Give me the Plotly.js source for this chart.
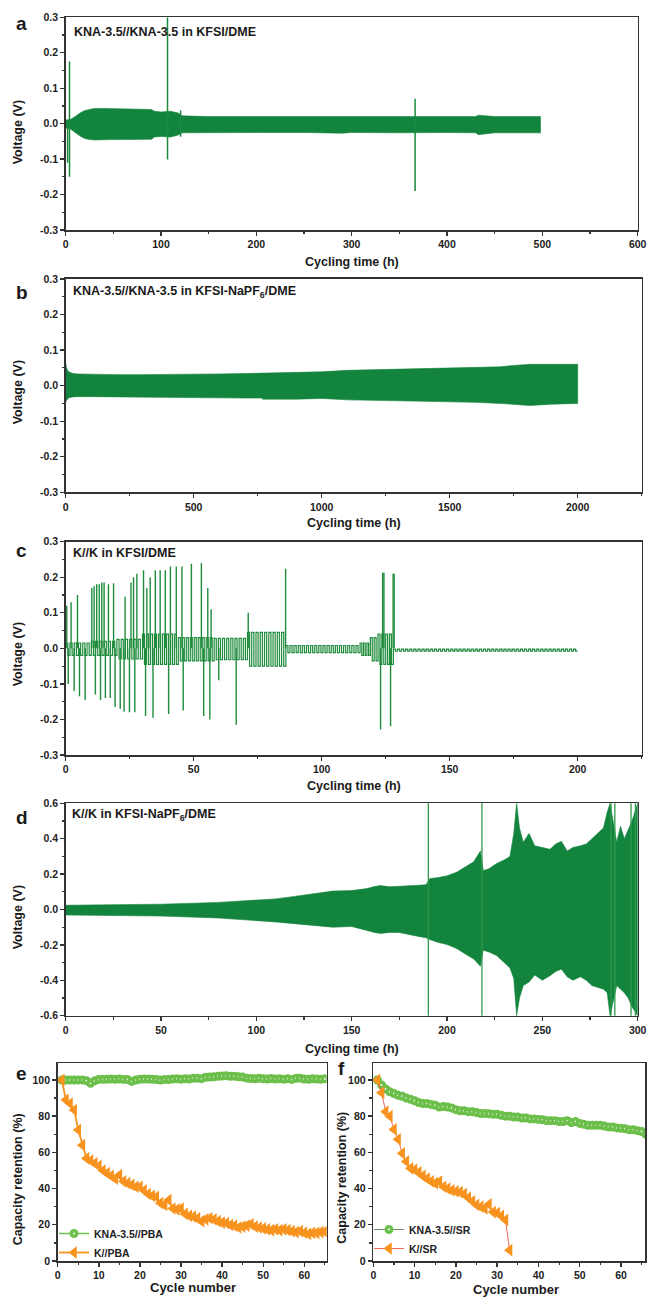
<!DOCTYPE html>
<html><head><meta charset="utf-8">
<script src="https://cdn.plot.ly/plotly-3.0.1.min.js"></script>
<style>html,body{margin:0;padding:0;background:#fff}#chart{width:647px;height:1297px}</style>
</head><body><div id="chart"></div>
<script>
// ---------- Panel a: KNA-3.5//KNA-3.5 in KFSI/DME (envelope of dense cycling) ----------
const aTime  = [0, 5, 10, 15, 20, 25, 30, 40, 50, 60, 70, 80, 90, 93, 100, 110, 118, 122, 130, 150, 200, 250, 290, 300, 350, 400, 430, 433, 450, 498];
const aUpper = [0.01, 0.012, 0.02, 0.03, 0.037, 0.04, 0.043, 0.043, 0.042, 0.041, 0.041, 0.04, 0.04, 0.035, 0.033, 0.035, 0.03, 0.022, 0.021, 0.02, 0.02, 0.02, 0.022, 0.021, 0.02, 0.02, 0.02, 0.024, 0.02, 0.02];
const aLower = [-0.012, -0.015, -0.025, -0.035, -0.042, -0.045, -0.046, -0.046, -0.045, -0.045, -0.045, -0.045, -0.044, -0.038, -0.036, -0.038, -0.032, -0.026, -0.025, -0.025, -0.025, -0.025, -0.027, -0.025, -0.026, -0.025, -0.026, -0.031, -0.026, -0.026];
const aSpikeTime = [2, 4, 106.8, 120.5, 366.5];
const aSpikeHigh = [0.01, 0.175, 0.3, 0.038, 0.07];
const aSpikeLow  = [-0.11, -0.15, -0.101, -0.037, -0.19];

// ---------- Panel b: KNA-3.5//KNA-3.5 in KFSI-NaPF6/DME ----------
const bTime  = [0, 3, 10, 25, 45, 100, 200, 300, 400, 500, 600, 700, 765, 770, 900, 1000, 1100, 1250, 1400, 1515, 1600, 1700, 1750, 1815, 1900, 2000];
const bUpper = [0.065, 0.05, 0.04, 0.035, 0.033, 0.032, 0.031, 0.031, 0.031, 0.032, 0.033, 0.034, 0.035, 0.037, 0.038, 0.039, 0.043, 0.046, 0.048, 0.05, 0.051, 0.053, 0.057, 0.06, 0.06, 0.06];
const bLower = [-0.045, -0.04, -0.035, -0.032, -0.031, -0.031, -0.031, -0.032, -0.033, -0.034, -0.034, -0.035, -0.035, -0.038, -0.038, -0.036, -0.04, -0.042, -0.044, -0.045, -0.047, -0.05, -0.052, -0.056, -0.052, -0.05];

// ---------- Panel c: K//K in KFSI/DME (plateau segments + spikes) ----------
const cSegStart  = [0, 10, 20, 30, 44, 58, 71, 86, 115, 119, 122, 128];
const cSegEnd    = [10, 20, 30, 44, 58, 71, 86, 115, 119, 122, 128, 200];
const cSegCycles = [6, 6, 6, 9, 9, 8, 9, 18, 3, 2, 4, 45];
const cSegHigh   = [0.015, 0.02, 0.025, 0.04, 0.03, 0.028, 0.045, 0.008, 0.015, 0.03, 0.04, -0.002];
const cSegLow    = [-0.02, -0.02, -0.03, -0.045, -0.035, -0.032, -0.05, -0.012, -0.02, -0.035, -0.045, -0.008];
const cSpikeTime = [0.4, 2.1, 4.6, 10.2, 11.1, 12.1, 13.1, 14.1, 15.0, 16.7, 18.7, 23.2, 25.5, 26.5, 27.8, 30.4, 31.7, 33, 35, 36.9, 38.9, 40.9, 43.2, 45.4, 49.1, 53, 55.5, 56.8, 71.3, 85.9, 123.8, 124.3, 127.9, 128.3,
                    1, 3.3, 5.4, 7.6, 11.6, 13.6, 15.5, 17.4, 19.3, 21.3, 22.8, 24.9, 27, 31.2, 34.1, 40.2, 45.9, 53.9, 56.3, 59.8, 66.6, 123.0, 126.9];
const cSpikePeak = [0.12, 0.13, 0.15, 0.17, 0.175, 0.18, 0.18, 0.185, 0.185, 0.18, 0.183, 0.145, 0.185, 0.2, 0.21, 0.22, 0.17, 0.2, 0.22, 0.22, 0.22, 0.23, 0.23, 0.23, 0.238, 0.24, 0.17, 0.11, 0.1, 0.224, 0.213, 0.213, 0.21, 0.21,
                    -0.1, -0.12, -0.135, -0.145, -0.13, -0.145, -0.14, -0.14, -0.165, -0.17, -0.178, -0.18, -0.18, -0.19, -0.195, -0.185, -0.175, -0.19, -0.2, -0.09, -0.215, -0.228, -0.219];

// ---------- Panel d: K//K in KFSI-NaPF6/DME ----------
const dTime  = [0, 20, 50, 80, 100, 110, 120, 130, 140, 150, 158, 162, 165, 170, 175, 180, 185, 189, 191, 195, 200, 205, 210, 214, 217.5, 219, 222, 226, 230, 233, 235, 236.5, 238, 240, 243, 246, 250, 254, 257, 260, 263, 266, 270, 273, 276, 279, 282, 284, 285.5, 289, 291, 293, 295, 297, 300];
const dUpper = [0.024, 0.026, 0.03, 0.04, 0.052, 0.06, 0.074, 0.09, 0.104, 0.107, 0.118, 0.13, 0.135, 0.128, 0.13, 0.133, 0.137, 0.14, 0.175, 0.18, 0.19, 0.21, 0.245, 0.27, 0.33, 0.22, 0.23, 0.26, 0.28, 0.3, 0.43, 0.6, 0.46, 0.38, 0.43, 0.36, 0.35, 0.34, 0.37, 0.385, 0.33, 0.35, 0.36, 0.37, 0.4, 0.43, 0.46, 0.55, 0.6, 0.38, 0.47, 0.4, 0.45, 0.5, 0.6];
const dLower = [-0.031, -0.033, -0.037, -0.048, -0.063, -0.07, -0.078, -0.09, -0.1, -0.096, -0.12, -0.13, -0.135, -0.13, -0.13, -0.14, -0.152, -0.16, -0.17, -0.185, -0.198, -0.22, -0.254, -0.28, -0.32, -0.23, -0.24, -0.26, -0.3, -0.33, -0.39, -0.6, -0.5, -0.43, -0.41, -0.37, -0.4, -0.374, -0.35, -0.337, -0.38, -0.4, -0.38, -0.4, -0.43, -0.44, -0.45, -0.47, -0.6, -0.43, -0.45, -0.47, -0.5, -0.55, -0.6];
const dSpikeTime = [190.2, 218.3, 286, 288, 296.5, 298.8];

// ---------- Panels e, f: capacity retention ----------
const cycles = [1,2,3,4,5,6,7,8,9,10,11,12,13,14,15,16,17,18,19,20,21,22,23,24,25,26,27,28,29,30,31,32,33,34,35,36,37,38,39,40,41,42,43,44,45,46,47,48,49,50,51,52,53,54,55,56,57,58,59,60,61,62,63,64,65,66];
const eKNA = [100,100,100,100,100,100,99.6,98.2,99.5,100.3,100.4,100.4,100.5,100.4,100.5,100.3,100.2,99.2,100,100.4,100.5,100.5,100.4,100.2,100,100.3,100.2,100.5,100.6,100.4,100.7,100.5,100.9,101,100.7,101.5,101.6,101.8,102,102.2,102.3,102,102.1,101.8,101.6,101,100.8,100.6,100.9,100.7,100.5,100.8,100.5,100.6,100.4,100.6,100.3,100.9,101,100.5,100.4,100.6,100.5,100.4,100.6];
const eK = [100,89,87,83.4,72.4,64,56.7,55.5,54,52.5,50,48.5,47,45.5,47.5,44,43,42,41,41,39,37,36,35.5,32,31,33.7,29,28.5,29,26,25,24.5,23.5,22,23,23.6,23,22,21.2,21,20,19.5,18.5,19,19.5,20.3,19,18.5,18,17.5,17,17.5,17,17.5,17,16.5,16,16.5,15.6,15,15.5,15.5,16,16.2];
const fKNA = [100,97.2,95,93.5,92.5,91.5,91,90,89.3,88.5,87.5,87,87,86.5,86,85,85.3,85,84.5,83.6,83,83,82.5,82.5,82,81.5,81.5,81.3,81,81,80.5,80,80,79.5,79.5,79,79,78.5,78.5,78.2,78,77.5,77.5,77.5,77,77,77.5,76.5,77,76,75.5,75,75,75,75,74.5,74,74,73.5,73.3,73,72.5,72.5,72,71.5,70];
const fK = [100,93,82.5,80,72.7,67.2,59.5,55,51.2,50.5,49,47,45.5,44,43,43.8,41,40,39,38.5,38,37,35,33,31,30,29,31.3,27,26.5,25,22.7,6];

// ---------- tick labels ----------
const vTick3 = [-0.3, -0.2, -0.1, 0, 0.1, 0.2, 0.3];
const vText3 = ['-0.3', '-0.2', '-0.1', '0.0', '0.1', '0.2', '0.3'];
const vTick6 = [-0.6, -0.4, -0.2, 0, 0.2, 0.4, 0.6];
const vText6 = ['-0.6', '-0.4', '-0.2', '0.0', '0.2', '0.4', '0.6'];
const aXTicks = [0, 100, 200, 300, 400, 500, 600];
const bXTicks = [0, 500, 1000, 1500, 2000];
const cXTicks = [0, 50, 100, 150, 200];
const dXTicks = [0, 50, 100, 150, 200, 250, 300];
const capTicks = [0, 20, 40, 60, 80, 100];
const cycTicks = [0, 10, 20, 30, 40, 50, 60];

// ---------- build ----------
const W = 647, H = 1297;
const FONT = 'Liberation Sans, Arial, Helvetica, sans-serif';
const GREEN = '#13843d';
const px = v => v / W, py = v => 1 - v / H;

function band(t, up, lo, xa, ya) {
  return {x: t.concat(t.slice().reverse()), y: up.concat(lo.slice().reverse()),
    xaxis: xa, yaxis: ya, mode: 'lines', fill: 'toself', fillcolor: GREEN,
    line: {color: GREEN, width: 0.6}, showlegend: false, hoverinfo: 'skip'};
}
function spikes(t, hi, lo, xa, ya, color, w) {
  const x = [], y = [];
  t.forEach((v, i) => { x.push(v, v, null); y.push(lo[i], hi[i], null); });
  return {x, y, xaxis: xa, yaxis: ya, mode: 'lines', line: {color, width: w}, showlegend: false, hoverinfo: 'skip'};
}
function squareWave() {
  const x = [], y = [];
  cSegStart.forEach((s, i) => {
    const n = cSegCycles[i], p = (cSegEnd[i] - s) / n;
    for (let k = 0; k < n; k++) {
      const t = s + k * p;
      x.push(t, t + p / 2, t + p / 2, t + p);
      y.push(cSegHigh[i], cSegHigh[i], cSegLow[i], cSegLow[i]);
    }
  });
  return {x, y, xaxis: 'x3', yaxis: 'y3', mode: 'lines', line: {color: '#1f8c3c', width: 1.2}, showlegend: false, hoverinfo: 'skip'};
}

const LG = '#6cbf4a', OR = '#f7931e';
const traces = [
  band(aTime, aUpper, aLower, 'x', 'y'),
  spikes(aSpikeTime, aSpikeHigh, aSpikeLow, 'x', 'y', '#1a8a3e', 1.5),
  band(bTime, bUpper, bLower, 'x2', 'y2'),
  squareWave(),
  spikes(cSpikeTime, cSpikePeak, cSpikeTime.map(() => 0), 'x3', 'y3', '#1f8c3c', 1.4),
  band(dTime, dUpper, dLower, 'x4', 'y4'),
  spikes(dSpikeTime, dSpikeTime.map(() => 0.62), dSpikeTime.map(() => -0.62), 'x4', 'y4', '#2f9a4c', 1.3),
  {x: cycles.slice(0, 65), y: eKNA, xaxis: 'x5', yaxis: 'y5', mode: 'lines+markers', name: 'KNA-3.5//PBA', legend: 'legend',
   line: {color: LG, width: 1.5}, marker: {symbol: 'circle', size: 5.5, color: '#ffffff', line: {color: LG, width: 3.5}}},
  {x: cycles.slice(0, 65), y: eK, xaxis: 'x5', yaxis: 'y5', mode: 'lines+markers', name: 'K//PBA', legend: 'legend',
   line: {color: OR, width: 1.8}, marker: {symbol: 'triangle-left', size: 11, color: OR}},
  {x: cycles.slice(0, 66), y: fKNA, xaxis: 'x6', yaxis: 'y6', mode: 'lines+markers', name: 'KNA-3.5//SR', legend: 'legend2',
   line: {color: '#6a8f6a', width: 1}, marker: {symbol: 'circle', size: 5.5, color: '#ffffff', line: {color: LG, width: 3.5}}},
  {x: cycles.slice(0, 33), y: fK, xaxis: 'x6', yaxis: 'y6', mode: 'lines+markers', name: 'K//SR', legend: 'legend2',
   line: {color: '#f06a5a', width: 1}, marker: {symbol: 'triangle-left', size: 11, color: OR}}
];

const tickfont = {family: FONT, size: 10.5, color: '#222', weight: 'bold'};
function axis(x0, x1, range, tickvals, ticktext, minor, anchor, horizontal) {
  return {domain: horizontal ? [px(x0), px(x1)] : [py(x1), py(x0)], range, anchor,
    showline: true, mirror: true, linecolor: '#333', linewidth: 1.6,
    ticks: 'outside', ticklen: 4, tickwidth: 1.4, tickcolor: '#333',
    tickmode: 'array', tickvals, ticktext: ticktext || tickvals.map(String), tickfont,
    minor: {ticks: 'outside', ticklen: 2.5, tickwidth: 1.2, tickcolor: '#333', dtick: minor, tick0: 0, showgrid: false},
    showgrid: false, zeroline: false, fixedrange: true};
}

const legendFont = {family: FONT, size: 10.5, color: '#222', weight: 'bold'};
const layout = {
  width: W, height: H, margin: {l: 0, r: 0, t: 0, b: 0},
  paper_bgcolor: '#fff', plot_bgcolor: '#fff',
  font: {family: FONT, size: 10.5, color: '#222'},
  xaxis:  axis(65.7, 637.7, [0, 600], aXTicks, null, 50, 'y', true),
  yaxis:  axis(17.3, 230, [-0.3, 0.3], vTick3, vText3, 0.05, 'x', false),
  xaxis2: axis(65.7, 641.7, [0, 2250], bXTicks, null, 250, 'y2', true),
  yaxis2: axis(279, 492.3, [-0.3, 0.3], vTick3, vText3, 0.05, 'x2', false),
  xaxis3: axis(65.7, 641.7, [0, 225], cXTicks, null, 25, 'y3', true),
  yaxis3: axis(541.7, 755, [-0.3, 0.3], vTick3, vText3, 0.05, 'x3', false),
  xaxis4: axis(65.7, 637.7, [0, 300], dXTicks, null, 25, 'y4', true),
  yaxis4: axis(803.3, 1015.7, [-0.6, 0.6], vTick6, vText6, 0.1, 'x4', false),
  xaxis5: axis(57.7, 326.7, [0, 65.45], cycTicks, null, 5, 'y5', true),
  yaxis5: axis(1063.3, 1261, [0, 109.2], capTicks, null, 10, 'x5', false),
  xaxis6: axis(373.3, 645, [0, 65.8], cycTicks, null, 5, 'y6', true),
  yaxis6: axis(1063.3, 1261, [0, 109.2], capTicks, null, 10, 'x6', false),
  legend:  {x: px(54), y: py(1219), xanchor: 'left', yanchor: 'top', bgcolor: 'rgba(0,0,0,0)', font: legendFont, tracegroupgap: 0},
  legend2: {x: px(369), y: py(1215), xanchor: 'left', yanchor: 'top', bgcolor: 'rgba(0,0,0,0)', font: legendFont, tracegroupgap: 0},
  annotations: []
};

function note(text, x, y, size, opts) {
  return Object.assign({text, x: px(x), y: py(y), xref: 'paper', yref: 'paper', showarrow: false,
    xanchor: 'center', yanchor: 'middle', font: {family: FONT, size, color: '#1a1a1a', weight: 'bold'}}, opts || {});
}
const A = layout.annotations;
A.push(note('a', 21, 23, 19), note('b', 21.7, 292, 19), note('c', 21, 550, 19),
       note('d', 21.7, 817, 19), note('e', 21.7, 1073, 19), note('f', 341, 1068, 19));
A.push(note('KNA-3.5//KNA-3.5 in KFSI/DME', 71.7, 32.3, 12.5, {xanchor: 'left'}));
A.push(note('KNA-3.5//KNA-3.5 in KFSI-NaPF<sub>6</sub>/DME', 70.7, 292.3, 12.5, {xanchor: 'left'}));
A.push(note('K//K in KFSI/DME', 70.7, 553.3, 12.5, {xanchor: 'left'}));
A.push(note('K//K in KFSI-NaPF<sub>6</sub>/DME', 70, 815, 12.5, {xanchor: 'left'}));
A.push(note('Cycling time (h)', 351.7, 262, 12.5), note('Cycling time (h)', 353.7, 523, 12.5),
       note('Cycling time (h)', 353.7, 786, 12.5), note('Cycling time (h)', 351.7, 1049, 12.5),
       note('Cycle number', 192.5, 1287, 13), note('Cycle number', 516, 1289, 13));
A.push(note('Voltage (V)', 18.3, 132, 12.5, {textangle: -90}), note('Voltage (V)', 18.3, 392, 12.5, {textangle: -90}),
       note('Voltage (V)', 18.3, 654, 12.5, {textangle: -90}), note('Voltage (V)', 18.3, 917, 12.5, {textangle: -90}),
       note('Capacity retention (%)', 18.3, 1179, 12.5, {textangle: -90}),
       note('Capacity retention (%)', 341.7, 1178, 12.5, {textangle: -90}));

Plotly.newPlot('chart', traces, layout, {staticPlot: true, displayModeBar: false});
</script></body></html>
